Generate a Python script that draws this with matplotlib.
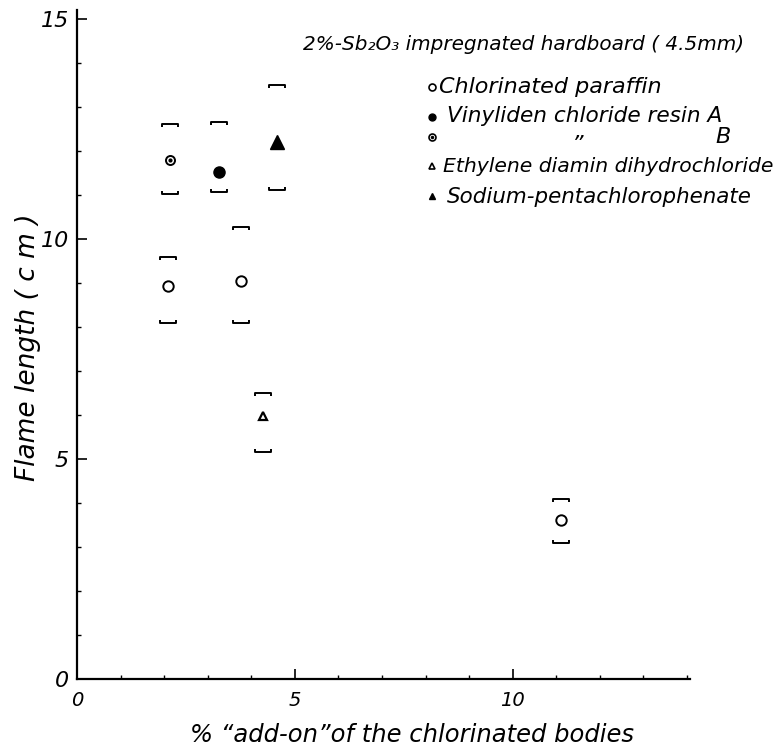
import matplotlib
matplotlib.use("Agg")
import matplotlib.pyplot as plt
from matplotlib.path import Path
from matplotlib.ticker import MultipleLocator

# values: mean flame length and the upper / lower bracket
paraffin_x = [2.08, 3.77, 11.12]
paraffin_y = [8.93, 9.05, 3.61]
paraffin_hi = [9.58, 10.26, 4.08]
paraffin_lo = [8.08, 8.08, 3.10]

resinA_x = [3.26]
resinA_y = [11.52]
resinA_hi = [12.66]
resinA_lo = [11.06]

resinB_x = [2.13]
resinB_y = [11.79]
resinB_hi = [12.61]
resinB_lo = [11.02]

ethylene_x = [4.27]
ethylene_y = [5.98]
ethylene_hi = [6.49]
ethylene_lo = [5.16]

sodium_x = [4.59]
sodium_y = [12.19]
sodium_hi = [13.50]
sodium_lo = [11.11]

xticks_major = [0, 5, 10]
yticks_major = [0, 5, 10, 15]

W, H = 781, 752
fig = plt.figure(figsize=(W / 100, H / 100), dpi=100)
ax = fig.add_axes([77 / W, (H - 679) / H, 613 / W, 669 / H])
ax.set_xlim(0, 14.07)
ax.set_ylim(0, 15.2)

for s in ["top", "right"]:
    ax.spines[s].set_visible(False)
for s in ["left", "bottom"]:
    ax.spines[s].set_linewidth(1.6)

FONT = dict(family="DejaVu Sans", style="italic")

ax.xaxis.set_minor_locator(MultipleLocator(1))
ax.yaxis.set_minor_locator(MultipleLocator(1))
ax.set_xticks(xticks_major)
ax.set_yticks(yticks_major)
ax.tick_params(which="major", direction="in", length=7, width=1.2)
ax.tick_params(axis="x", which="major", labelsize=14, pad=9)
ax.tick_params(axis="y", which="major", labelsize=16, pad=6)
ax.tick_params(which="minor", direction="in", length=3, width=1.0)
for lab in ax.get_xticklabels() + ax.get_yticklabels():
    lab.set_fontstyle("italic")

# bracket markers (top and bottom of the range)
top_br = Path([(-1, -0.45), (-1, 0), (1, 0), (1, -0.45)],
              [Path.MOVETO, Path.LINETO, Path.LINETO, Path.LINETO])
bot_br = Path([(-1, 0.45), (-1, 0), (1, 0), (1, 0.45)],
              [Path.MOVETO, Path.LINETO, Path.LINETO, Path.LINETO])


def brackets(x, hi, lo):
    ax.plot(x, hi, ls="none", marker=top_br, ms=11, mew=1.4, mec="black",
            mfc="none", clip_on=False)
    ax.plot(x, lo, ls="none", marker=bot_br, ms=11, mew=1.4, mec="black",
            mfc="none", clip_on=False)


for xs, hi, lo in [(paraffin_x, paraffin_hi, paraffin_lo),
                   (resinA_x, resinA_hi, resinA_lo),
                   (resinB_x, resinB_hi, resinB_lo),
                   (ethylene_x, ethylene_hi, ethylene_lo),
                   (sodium_x, sodium_hi, sodium_lo)]:
    brackets(xs, hi, lo)

ax.plot(paraffin_x, paraffin_y, ls="none", marker="o", ms=7.5, mfc="white",
        mec="black", mew=1.4)
ax.plot(resinA_x, resinA_y, ls="none", marker="o", ms=8, color="black")
ax.plot(resinB_x, resinB_y, ls="none", marker="o", ms=6.5, mfc="white",
        mec="black", mew=1.4)
ax.plot(resinB_x, resinB_y, ls="none", marker="o", ms=2, color="black")
ax.plot(ethylene_x, ethylene_y, ls="none", marker="^", ms=6, mfc="white",
        mec="black", mew=1.6)
ax.plot(sodium_x, sodium_y, ls="none", marker="^", ms=9.5, color="black")

# axis labels
fig.text(28 / W, 1 - 347 / H, "Flame length ( c m )", rotation=90,
         ha="center", va="center", fontsize=19, **FONT)
fig.text(412 / W, 1 - 735 / H, "% \u201cadd-on\u201dof the chlorinated bodies",
         ha="center", va="center", fontsize=17.5, **FONT)

# key in the upper right
fig.text(303 / W, 1 - 44 / H, "2%-Sb₂O₃ impregnated hardboard ( 4.5mm)",
         ha="left", va="center", fontsize=14.4, **FONT)


def key_marker(px, py, **kw):
    ax.plot([(px - 77) / 613], [(679 - py) / 669], transform=ax.transAxes,
            ls="none", clip_on=False, **kw)


key_marker(432, 87, marker="o", ms=5, mfc="white", mec="black", mew=1.2)
key_marker(432, 117, marker="o", ms=5, color="black")
key_marker(432, 137, marker="o", ms=5, mfc="white", mec="black", mew=1.2)
key_marker(432, 137, marker="o", ms=1.5, color="black")
key_marker(432, 166, marker="^", ms=5, mfc="white", mec="black", mew=1.2)
key_marker(432, 196, marker="^", ms=5, color="black")

fig.text(439 / W, 1 - 87 / H, "Chlorinated paraffin", ha="left",
         va="center", fontsize=16, **FONT)
fig.text(447 / W, 1 - 116 / H, "Vinyliden chloride resin A", ha="left",
         va="center", fontsize=15.6, **FONT)
fig.text(578 / W, 1 - 145 / H, "\u201d", ha="center", va="center",
         fontsize=16, **FONT)
fig.text(723 / W, 1 - 137 / H, "B", ha="center", va="center",
         fontsize=16, **FONT)
fig.text(443 / W, 1 - 166 / H, "Ethylene diamin dihydrochloride", ha="left",
         va="center", fontsize=14.7, **FONT)
fig.text(447 / W, 1 - 197 / H, "Sodium-pentachlorophenate", ha="left",
         va="center", fontsize=15.4, **FONT)

fig.savefig("out.png", dpi=100, facecolor="white")
